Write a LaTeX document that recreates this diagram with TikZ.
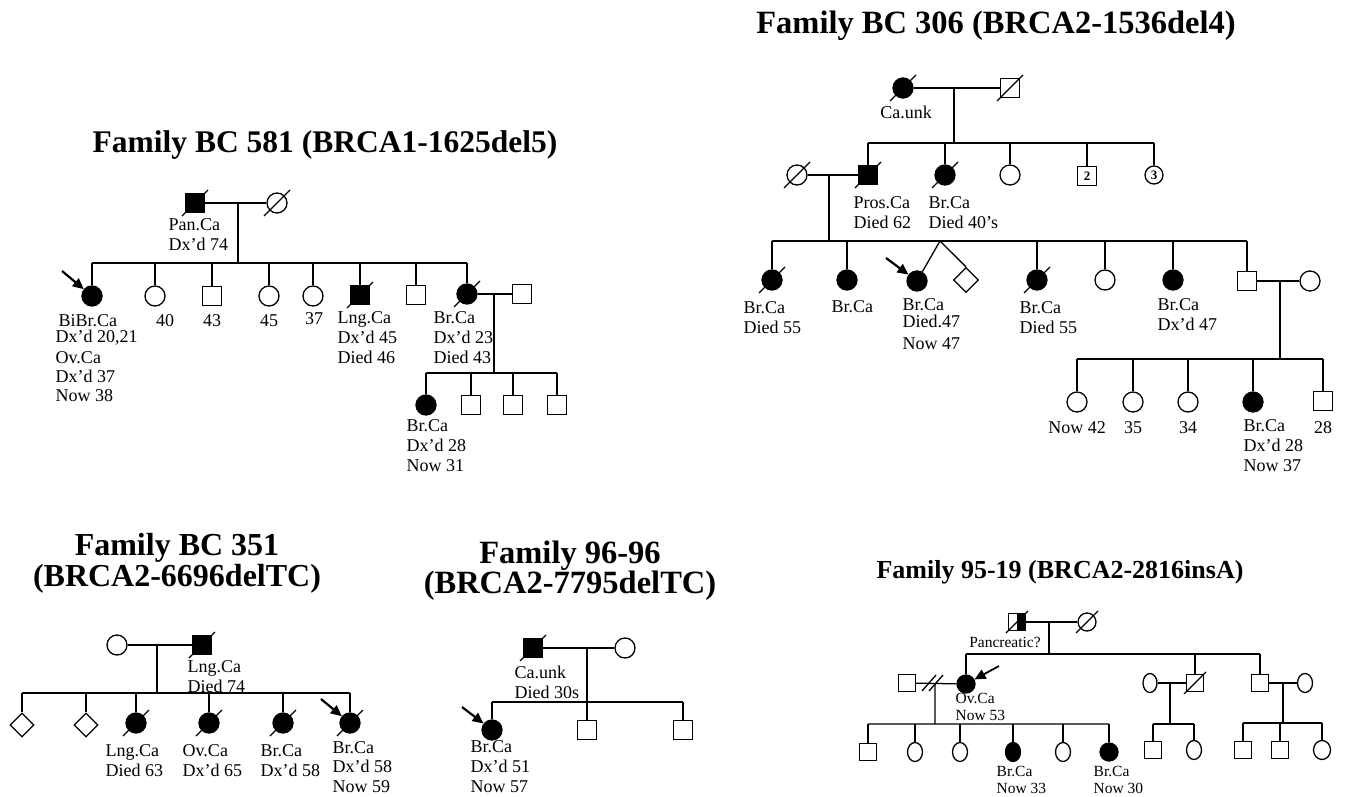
\documentclass[tikz,border=0pt]{standalone}
\usepackage{fontspec}
\setmainfont{Liberation Serif}
\usetikzlibrary{shapes.geometric,arrows.meta}
\begin{document}
\begin{tikzpicture}[x=1pt,y=-1pt,line width=1.3pt,
    every node/.style={inner sep=0pt},
    male/.style={draw,rectangle,minimum size=19pt},
    fem/.style={draw,circle,minimum size=20pt},
    ma/.style={male,fill=black},
    fa/.style={fem,fill=black},
    unk/.style={draw,diamond,minimum size=25pt},
    sm/.style={draw,rectangle,minimum size=17pt},
    sf/.style={draw,ellipse,minimum width=15pt,minimum height=19pt},
    lab/.style={anchor=base west,align=left,font=\fontsize{18}{20}\selectfont},
    age/.style={anchor=base,font=\fontsize{18}{20}\selectfont},
    slab/.style={anchor=base west,align=left,font=\fontsize{15.5}{17}\selectfont},
    ttl/.style={align=center,font=\fontsize{31.5}{31}\selectfont\bfseries},
    pb/.style={-{Triangle[length=11pt,width=10pt]},line width=2.2pt}]
\useasboundingbox (0,0) rectangle (1346,797);

% Family BC 581
\node[ttl] (t581) at (325,145) {Family BC 581 (BRCA1-1625del5)};
\node[ma] (a1) at (195,203) {};
\node[fem] (a2) at (277,203) {};
\node[lab] (la1) at (168,250) {Pan.Ca\\Dx'd 74};
\coordinate (c1) at (238,203);
\coordinate (s1) at (0,263);
\node[fa] (b1) at (92,296) {};
\node[fem] (b2) at (155,296) {};
\node[male] (b3) at (212,296) {};
\node[fem] (b4) at (269,296) {};
\node[fem] (b5) at (313,296) {};
\node[ma] (b6) at (360,295) {};
\node[male] (b7) at (416,295) {};
\node[fa] (b8) at (467,294) {};
\node[male] (b9) at (522,294) {};
\coordinate (c2) at (494,294);
\coordinate (s2) at (0,373);
\node[fa] (d1) at (426,405) {};
\node[male] (d2) at (471,405) {};
\node[male] (d3) at (513,405) {};
\node[male] (d4) at (557,405) {};
\coordinate (pa1) at (62,271);
\draw (a1) -- (a2) (c1) -- (c1 |- s1) (b1 |- s1) -- (b8 |- s1);
\foreach \n in {b1,b2,b3,b4,b5,b6,b7,b8} \draw (\n) -- (\n |- s1);
\draw (b8) -- (b9) (c2) -- (c2 |- s2) (d1 |- s2) -- (d4 |- s2);
\foreach \n in {d1,d2,d3,d4} \draw (\n) -- (\n |- s2);
\draw[pb] (pa1) -- (b1);
\node[lab,font=\fontsize{18}{19}\selectfont] (lb1) at (55,401)
    {\hspace{3pt}BiBr.Ca\\[-3pt]Dx'd 20,21\\[2pt]Ov.Ca\\Dx'd 37\\Now 38};
\node[age] (lb2) at (165,326) {40};
\node[age] (lb3) at (212,326) {43};
\node[age] (lb4) at (269,326) {45};
\node[age] (lb5) at (314,324) {37};
\node[lab] (lb6) at (337,363) {Lng.Ca\\Dx'd 45\\Died 46};
\node[lab] (lb8) at (433,363) {Br.Ca\\Dx'd 23\\Died 43};
\node[lab] (ld1) at (406,471) {Br.Ca\\Dx'd 28\\Now 31};

% Family BC 306
\node[ttl,font=\fontsize{32.5}{31}\selectfont\bfseries] (t306) at (996,26)
    {Family BC 306 (BRCA2-1536del4)};
\node[fa] (g1) at (903,88) {};
\node[male] (g2) at (1010,88) {};
\node[age] (lg1) at (906,119) {Ca.unk};
\coordinate (c3) at (954,88);
\coordinate (s3) at (0,143);
\node[fem] (h0) at (797,175) {};
\node[ma] (h1) at (868,175) {};
\node[fa] (h2) at (945,175) {};
\node[fem] (h3) at (1010,175) {};
\node[male,font=\fontsize{13}{13}\selectfont\bfseries] (h4) at (1087,176) {2};
\node[fem,minimum size=18pt,font=\fontsize{13}{13}\selectfont\bfseries] (h5) at (1154,175) {3};
\node[lab] (lh1) at (853,228) {Pros.Ca\\Died 62};
\node[lab] (lh2) at (928,228) {Br.Ca\\Died 40's};
\coordinate (c4) at (829,175);
\coordinate (s4) at (0,241);
\coordinate (tw) at (940,241);
\node[fa] (i1) at (772,280) {};
\node[fa] (i2) at (847,280) {};
\node[fa] (i3) at (917,281) {};
\node[unk] (i4) at (966,280) {};
\node[fa] (i5) at (1037,280) {};
\node[fem] (i6) at (1105,280) {};
\node[fa] (i7) at (1173,280) {};
\node[male] (i8) at (1247,281) {};
\node[fem] (i9) at (1310,281) {};
\coordinate (c5) at (1280,281);
\coordinate (s5) at (0,359);
\node[fem] (j1) at (1077,402) {};
\node[fem] (j2) at (1133,402) {};
\node[fem] (j3) at (1188,402) {};
\node[fa] (j4) at (1253,402) {};
\node[male] (j5) at (1323,401) {};
\coordinate (pa2) at (886,258);
\draw (g1) -- (g2) (c3) -- (c3 |- s3) (h1 |- s3) -- (h5 |- s3);
\foreach \n in {h1,h2,h3,h4,h5} \draw (\n) -- (\n |- s3);
\draw (h0) -- (h1) (c4) -- (c4 |- s4) (i1 |- s4) -- (i8 |- s4);
\foreach \n in {i1,i2,i5,i6,i7,i8} \draw (\n) -- (\n |- s4);
\draw (i3) -- (tw) -- (i4.north);
\draw (i8) -- (i9) (c5) -- (c5 |- s5) (j1 |- s5) -- (j5 |- s5);
\foreach \n in {j1,j2,j3,j4,j5} \draw (\n) -- (\n |- s5);
\draw[pb] (pa2) -- (i3);
\node[lab] (li1) at (743,333) {Br.Ca\\Died 55};
\node[lab] (li2) at (831,312) {Br.Ca};
\node[lab] (li3) at (902,349) {Br.Ca\\[-3pt]Died.47\\[2pt]Now 47};
\node[lab] (li5) at (1019,333) {Br.Ca\\Died 55};
\node[lab] (li7) at (1157,330) {Br.Ca\\Dx'd 47};
\node[age] (lj1) at (1077,433) {Now 42};
\node[age] (lj2) at (1133,433) {35};
\node[age] (lj3) at (1188,433) {34};
\node[lab] (lj4) at (1243,471) {Br.Ca\\Dx'd 28\\Now 37};
\node[age] (lj5) at (1323,433) {28};

% Family BC 351
\node[ttl,font=\fontsize{32}{31}\selectfont\bfseries] (t351) at (177,563)
    {Family BC 351\\(BRCA2-6696delTC)};
\node[fem] (k1) at (117,645) {};
\node[ma] (k2) at (202,645) {};
\node[lab] (lk2) at (187,692) {Lng.Ca\\Died 74};
\coordinate (c6) at (157,645);
\coordinate (s6) at (0,693);
\node[unk,minimum size=24pt] (l1) at (22,725) {};
\node[unk,minimum size=24pt] (l2) at (86,725) {};
\node[fa] (l3) at (136,723) {};
\node[fa] (l4) at (209,723) {};
\node[fa] (l5) at (283,723) {};
\node[fa] (l6) at (350,723) {};
\coordinate (pa3) at (321,699);
\draw (k1) -- (k2) (c6) -- (c6 |- s6) (l1 |- s6) -- (l6 |- s6);
\foreach \n in {l1,l2,l3,l4,l5,l6} \draw (\n) -- (\n |- s6);
\draw[pb] (pa3) -- (l6);
\node[lab] (ll3) at (105,776) {Lng.Ca\\Died 63};
\node[lab] (ll4) at (182,776) {Ov.Ca\\Dx'd 65};
\node[lab] (ll5) at (260,776) {Br.Ca\\Dx'd 58};
\node[lab,font=\fontsize{18}{19.5}\selectfont] (ll6) at (332,792) {Br.Ca\\Dx'd 58\\Now 59};

% Family 96-96
\node[ttl,font=\fontsize{32.5}{30}\selectfont\bfseries] (t9696) at (570,571)
    {Family 96-96\\(BRCA2-7795delTC)};
\node[ma] (m1) at (533,648) {};
\node[fem] (m2) at (625,648) {};
\node[lab] (lm1) at (514,698) {Ca.unk\\Died 30s};
\coordinate (c7) at (587,648);
\coordinate (s7) at (0,702);
\node[fa] (n1) at (492,730) {};
\node[male] (n2) at (587,730) {};
\node[male] (n3) at (683,730) {};
\coordinate (pa4) at (462,707);
\draw (m1) -- (m2) (c7) -- (c7 |- s7) (n1 |- s7) -- (n3 |- s7);
\foreach \n in {n1,n2,n3} \draw (\n) -- (\n |- s7);
\draw[pb] (pa4) -- (n1);
\node[lab] (ln1) at (470,792) {Br.Ca\\Dx'd 51\\Now 57};

% Family 95-19
\node[ttl,font=\fontsize{26}{26}\selectfont\bfseries] (t9519) at (1060,572)
    {Family 95-19 (BRCA2-2816insA)};
\node[sm,path picture={\fill (path picture bounding box.north)
    rectangle (path picture bounding box.south east);}] (p1) at (1017,622) {};
\node[draw,circle,minimum size=18pt] (p2) at (1087,622) {};
\node[slab,anchor=base] (lp1) at (1005,647) {Pancreatic?};
\coordinate (c8) at (1049,622);
\coordinate (s8) at (0,654);
\node[sm] (q0) at (907,683) {};
\node[draw,circle,fill=black,minimum size=18pt] (q1) at (966,684) {};
\node[sm] (q2) at (1195,683) {};
\node[sm] (q3) at (1260,683) {};
\node[sf,minimum width=14pt] (q4) at (1150,683) {};
\node[sf] (q5) at (1305,683) {};
\coordinate (c9) at (935,683);
\coordinate (s9) at (0,724);
\coordinate (c10) at (1170,683);
\coordinate (s10) at (0,724);
\coordinate (c11) at (1283,683);
\coordinate (s11) at (0,723);
\node[sm] (r1) at (868,752) {};
\node[sf] (r2) at (915,752) {};
\node[sf] (r3) at (960,752) {};
\node[sf,fill=black] (r4) at (1013,752) {};
\node[sf] (r5) at (1063,752) {};
\node[draw,circle,fill=black,minimum size=18pt] (r6) at (1109,752) {};
\node[sm] (t1) at (1153,750) {};
\node[sf] (t2) at (1194,750) {};
\node[sm] (u1) at (1243,750) {};
\node[sm] (u2) at (1280,750) {};
\node[sf,minimum width=17pt] (u3) at (1322,750) {};
\coordinate (pa5) at (999,666);
\draw (p1) -- (p2) (c8) -- (c8 |- s8) (q1 |- s8) -- (q3 |- s8);
\foreach \n in {q1,q2,q3} \draw (\n) -- (\n |- s8);
\draw (q0) -- (q1) (c9) -- (c9 |- s9) (r1 |- s9) -- (r6 |- s9);
\foreach \n in {r1,r2,r3,r4,r5,r6} \draw (\n) -- (\n |- s9);
\draw (922,691) -- ++(14,-16) (929,691) -- ++(14,-16);
\draw (q4) -- (q2) (c10) -- (c10 |- s10) (t1 |- s10) -- (t2 |- s10);
\foreach \n in {t1,t2} \draw (\n) -- (\n |- s10);
\draw (q3) -- (q5) (c11) -- (c11 |- s11) (u1 |- s11) -- (u3 |- s11);
\foreach \n in {u1,u2,u3} \draw (\n) -- (\n |- s11);
\draw[pb,line width=1.8pt] (pa5) -- (q1);
\node[slab] (lq1) at (955,720) {Ov.Ca\\Now 53};
\node[slab] (lr4) at (996,793) {Br.Ca\\Now 33};
\node[slab] (lr6) at (1093,793) {Br.Ca\\Now 30};

% deceased
\foreach \n in {a1,a2,b6,b8,g1,g2,h0,h1,h2,i1,i5,k2,l3,l4,l5,l6,m1}
    \draw (\n) ++(-13,13) -- ++(26,-26);
\foreach \n in {p1,p2,q2}
    \draw (\n) ++(-11,11) -- ++(22,-22);
\end{tikzpicture}
\end{document}
